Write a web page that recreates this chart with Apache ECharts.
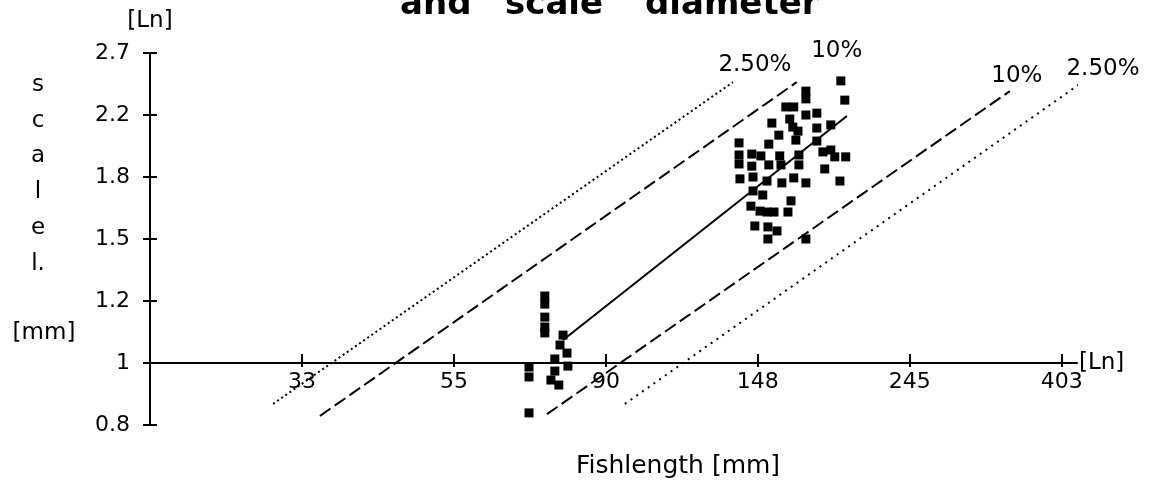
<!DOCTYPE html>
<html><head><meta charset="utf-8">
<script src="https://cdn.jsdelivr.net/npm/echarts@6/dist/echarts.min.js"></script>
<style>html,body{margin:0;padding:0;background:#fff}#c{width:1153px;height:485px}</style>
</head><body><div id="c"></div>
<script>
const FONT = 'DejaVu Sans';
// Axes are in natural-log units: x = ln(fish length mm), y = ln(scale diameter mm)
const xTickValues = [3.5, 4, 4.5, 5, 5.5, 6];
const xTickLabels = ['33', '55', '90', '148', '245', '403'];
const yTickValues = [-0.2, 0, 0.2, 0.4, 0.6, 0.8, 1.0];
const yTickLabels = ['0.8', '1', '1.2', '1.5', '1.8', '2.2', '2.7'];

// small fish
const juvLnLength = [4.299, 4.299, 4.299, 4.299, 4.299, 4.359, 4.349, 4.372, 4.332, 4.375, 4.247, 4.247, 4.332, 4.319, 4.345, 4.247];
const juvLnScale  = [0.216, 0.190, 0.148, 0.116, 0.097, 0.090, 0.058, 0.032, 0.013, -0.010, -0.013, -0.045, -0.026, -0.055, -0.071, -0.161];

// large fish
const adultLnLength = [5.273, 5.286, 5.158, 5.158, 5.158, 5.194, 5.240, 5.194, 5.132, 5.194, 5.135, 5.214, 5.240, 5.253, 5.289, 5.135, 5.220, 5.158, 5.270, 5.158,
  5.092, 5.118, 5.046, 5.105, 5.115, 5.069, 5.125, 4.938, 5.036, 4.938, 4.980, 5.010, 5.072, 4.938, 4.980, 5.036, 5.076, 4.941, 4.984, 5.030, 5.118, 5.079,
  4.984, 5.016, 4.977, 5.007, 5.109, 5.030, 5.053, 5.099, 4.990, 5.033, 5.063, 5.033];
const adultLnScale = [0.910, 0.848, 0.877, 0.852, 0.800, 0.806, 0.768, 0.758, 0.748, 0.716, 0.671, 0.681, 0.687, 0.665, 0.665, 0.639, 0.626, 0.581, 0.587, 0.400,
  0.826, 0.826, 0.774, 0.787, 0.761, 0.735, 0.719, 0.710, 0.706, 0.671, 0.674, 0.668, 0.668, 0.642, 0.635, 0.639, 0.639, 0.594, 0.600, 0.587, 0.597, 0.581,
  0.555, 0.542, 0.506, 0.490, 0.523, 0.487, 0.487, 0.487, 0.442, 0.439, 0.426, 0.400];

// regression line and prediction bands (end points, ln units)
const regressionLine = [[4.359, 0.074], [5.293, 0.797]];
const upper25 = [[3.405, -0.132], [4.918, 0.906]];
const upper10 = [[3.559, -0.171], [5.128, 0.906]];
const lower10 = [[4.306, -0.165], [5.829, 0.877]];
const lower25 = [[4.5625, -0.132], [6.059, 0.900]];
const bandLabels = ['2.50%', '10%', '10%', '2.50%'];

const X_MIN = 3, X_MAX = 6.05, Y_MIN = -0.2, Y_MAX = 1.0;
const GRID_H = 372;
// put the x axis where ln(scale) = 0
const xAxisOffset = -((0 - Y_MIN) / (Y_MAX - Y_MIN)) * GRID_H;

const zip = (a, b) => a.map((v, i) => [v, b[i]]);
const txt = { color: '#000', fontFamily: FONT };

function band(data, type, label, offset) {
  return {
    type: 'line', data: data, showSymbol: false, symbol: 'none', clip: false, silent: true,
    lineStyle: { color: '#000', width: 2, type: type },
    endLabel: { show: true, formatter: label, color: '#000', fontFamily: FONT, fontSize: 23,
      align: 'center', verticalAlign: 'middle', distance: 0, offset: offset }
  };
}

const chart = echarts.init(document.getElementById('c'));
chart.setOption({
  backgroundColor: '#fff',
  animation: false,
  grid: { left: 150, top: 53, width: 927, height: GRID_H, containLabel: false },
  xAxis: [{
    type: 'value', min: X_MIN, max: X_MAX, position: 'bottom', offset: xAxisOffset,
    axisLine: { onZero: false, lineStyle: { color: '#000', width: 2 } },
    axisTick: { show: true, inside: false, length: 4, customValues: xTickValues, lineStyle: { color: '#000', width: 2 } },
    axisLabel: { customValues: xTickValues, margin: 8, fontSize: 22, ...txt,
      formatter: v => xTickLabels[Math.round((v - 3.5) / 0.5)] || '' },
    splitLine: { show: false },
    name: '[Ln]', nameLocation: 'end', nameGap: 2, nameMoveOverlap: false,
    nameTextStyle: { ...txt, fontSize: 23, align: 'left', verticalAlign: 'middle', padding: [0, 0, 12, 0] }
  }, {
    type: 'value', min: X_MIN, max: X_MAX, position: 'bottom', offset: xAxisOffset,
    axisLine: { show: false, onZero: false },
    axisTick: { show: true, inside: true, length: 9, customValues: xTickValues, lineStyle: { color: '#000', width: 2 } },
    axisLabel: { show: false }, splitLine: { show: false }
  }],
  yAxis: [{
    type: 'value', min: Y_MIN, max: Y_MAX, interval: 0.2,
    axisLine: { show: true, onZero: false, lineStyle: { color: '#000', width: 2 } },
    axisTick: { show: true, inside: false, length: 7, lineStyle: { color: '#000', width: 2 } },
    axisLabel: { margin: 20, fontSize: 22, ...txt,
      formatter: v => yTickLabels[Math.round((v - Y_MIN) / 0.2)] || '' },
    splitLine: { show: false },
    name: '[Ln]', nameLocation: 'end', nameGap: 20, nameMoveOverlap: false,
    nameTextStyle: { ...txt, fontSize: 23, align: 'center' }
  }, {
    type: 'value', min: Y_MIN, max: Y_MAX, interval: 0.2, position: 'left',
    axisLine: { show: false, onZero: false },
    axisTick: { show: true, inside: true, length: 7, lineStyle: { color: '#000', width: 2 } },
    axisLabel: { show: false }, splitLine: { show: false }
  }],
  graphic: [
    { type: 'text', x: 400, y: 5, style: { text: 'and', fontSize: 34, fontWeight: 'bold', fontFamily: FONT, fill: '#000', verticalAlign: 'middle' } },
    { type: 'text', x: 505, y: 5, style: { text: 'scale', fontSize: 34, fontWeight: 'bold', fontFamily: FONT, fill: '#000', verticalAlign: 'middle' } },
    { type: 'text', x: 645, y: 5, style: { text: 'diameter', fontSize: 34, fontWeight: 'bold', fontFamily: FONT, fill: '#000', verticalAlign: 'middle' } },
    { type: 'text', x: 38, y: 67, style: { text: 's\nc\na\nl\ne\nl.', fontSize: 23, lineHeight: 35.8, fontFamily: FONT, fill: '#000', align: 'center', verticalAlign: 'top' } },
    { type: 'text', x: 44, y: 333, style: { text: '[mm]', fontSize: 23, fontFamily: FONT, fill: '#000', align: 'center', verticalAlign: 'middle' } },
    { type: 'text', x: 678, y: 466, style: { text: 'Fishlength [mm]', fontSize: 25, fontFamily: FONT, fill: '#000', align: 'center', verticalAlign: 'middle' } }
  ],
  series: [
    band(upper25, [2, 3], bandLabels[0], [22, -17]),
    band(upper10, [13, 5], bandLabels[1], [40, -31]),
    band(lower10, [13, 5], bandLabels[2], [7, -15]),
    band(lower25, [2, 5], bandLabels[3], [25, -16]),
    { type: 'line', data: regressionLine, showSymbol: false, symbol: 'none', clip: false, silent: true,
      lineStyle: { color: '#000', width: 2, type: 'solid' } },
    { type: 'scatter', data: zip(juvLnLength, juvLnScale), symbol: 'rect', symbolSize: 9, itemStyle: { color: '#000', opacity: 1 }, silent: true },
    { type: 'scatter', data: zip(adultLnLength, adultLnScale), symbol: 'rect', symbolSize: 9, itemStyle: { color: '#000', opacity: 1 }, silent: true }
  ]
});
</script></body></html>
